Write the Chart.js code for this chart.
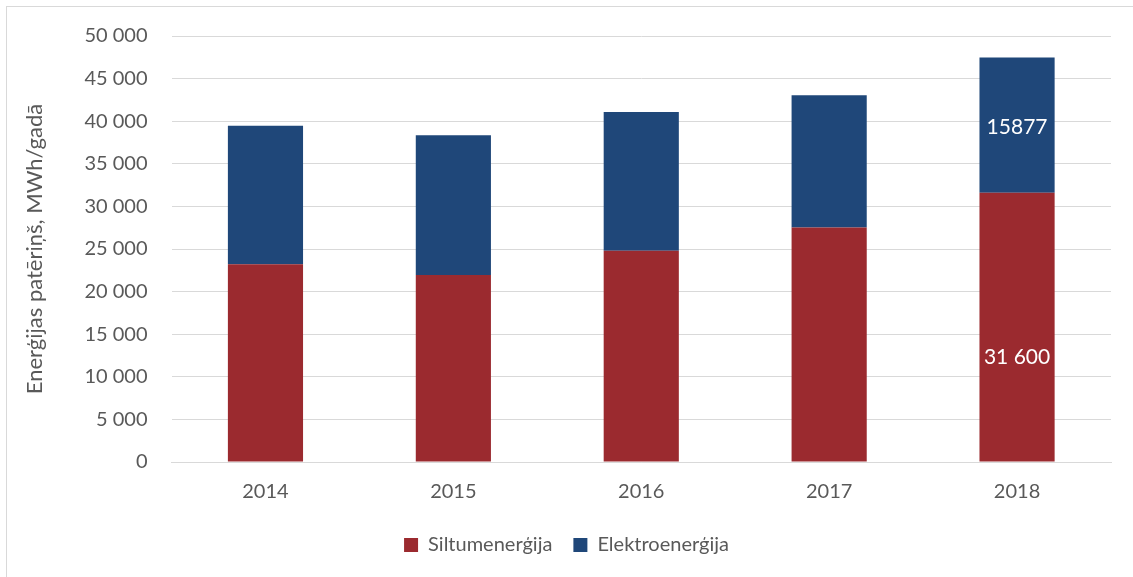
<!DOCTYPE html>
<html>
<head>
<meta charset="utf-8">
<script src="https://cdn.jsdelivr.net/npm/chart.js@4"></script>
<style>
    body { margin: 0; background: #fff; overflow: hidden; }
    #wrap { position: relative; width: 1133px; height: 577px; }
    #frame { position: absolute; left: 6px; top: 6px; width: 1200px; height: 700px; border: 1px solid #d9d9d9; box-sizing: border-box; }
    canvas { position: absolute; left: 0; top: 0; }
</style>
</head>
<body>
<div id="wrap">
    <div id="frame"></div>
    <canvas id="energyChart" width="1133" height="577"></canvas>
</div>
<script>

const years = ["2014", "2015", "2016", "2017", "2018"];
const heatValues = [23200, 21940, 24800, 27510, 31600];
const powerValues = [16280, 16410, 16290, 15550, 15877];
const heatLabels = ["", "", "", "", "31 600"];
const powerLabels = ["", "", "", "", "15877"];

const FONT = "Lato, 'Open Sans', sans-serif";
const GREY = "#595959";

// draws the few value labels on the last bar
const barLabels = {
    id: "barLabels",
    afterDatasetsDraw(chart) {
        const ctx = chart.ctx;
        ctx.save();
        ctx.fillStyle = "#fff";
        ctx.font = "21px " + FONT;
        ctx.textAlign = "center";
        ctx.textBaseline = "middle";

        chart.data.datasets.forEach((ds, i) => {
            let meta = chart.getDatasetMeta(i);
            meta.data.forEach((bar, j) => {
                let txt = ds.labels[j];
                if (!txt) return;
                let mid = (bar.y + bar.base) / 2;
                ctx.fillText(txt, bar.x, mid + ds.labelShift);
            });
        });
        ctx.restore();
    }
};

const ctx = document.getElementById("energyChart").getContext("2d");

new Chart(ctx, {
    type: "bar",
    data: {
        labels: years,
        datasets: [
            {
                label: "Siltumenerģija",
                data: heatValues,
                labels: heatLabels,
                labelShift: 30,
                backgroundColor: "#9b2a2f",
                borderWidth: 0,
                categoryPercentage: 1,
                barPercentage: 0.4
            },
            {
                label: "Elektroenerģija",
                data: powerValues,
                labels: powerLabels,
                labelShift: 2,
                backgroundColor: "#1f4779",
                borderWidth: 0,
                categoryPercentage: 1,
                barPercentage: 0.4
            }
        ]
    },
    options: {
        responsive: false,
        animation: false,
        layout: {
            padding: { left: 22, right: 22, top: 24, bottom: 12 }
        },
        plugins: {
            legend: {
                position: "bottom",
                labels: {
                    color: GREY,
                    font: { size: 20, family: FONT },
                    boxWidth: 14,
                    boxHeight: 14,
                    padding: 21
                }
            },
            tooltip: { enabled: false }
        },
        scales: {
            x: {
                stacked: true,
                grid: { display: false },
                border: { color: "#d9d9d9" },
                ticks: {
                    color: GREY,
                    font: { size: 20, family: FONT },
                    padding: 10
                }
            },
            y: {
                stacked: true,
                min: 0,
                max: 50000,
                border: { display: false },
                grid: {
                    color: "#d9d9d9",
                    drawTicks: false
                },
                ticks: {
                    stepSize: 5000,
                    color: GREY,
                    font: { size: 20, family: FONT },
                    padding: 24,
                    callback: v => v.toLocaleString("en-US").replace(",", " ")
                },
                title: {
                    display: true,
                    text: "Enerģijas patēriņš, MWh/gadā",
                    color: GREY,
                    font: { size: 22, family: FONT },
                    padding: { top: 0, bottom: 12 }
                }
            }
        }
    },
    plugins: [barLabels]
});

</script>
</body>
</html>
